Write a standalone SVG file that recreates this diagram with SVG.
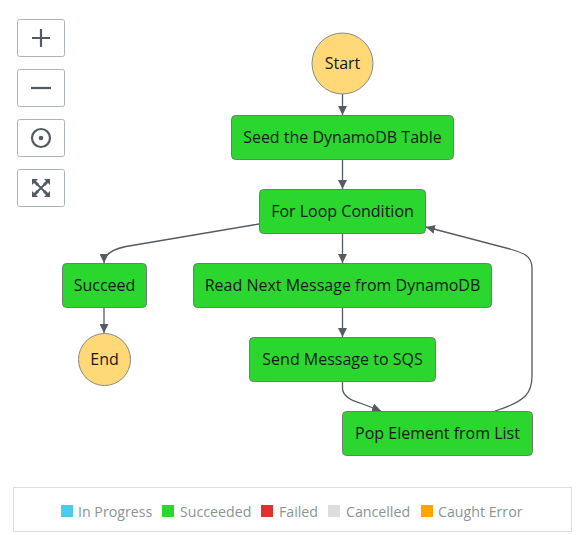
<svg xmlns="http://www.w3.org/2000/svg" width="582" height="535" viewBox="0 0 582 535">
<style>
.btn{fill:#fff;stroke:#aab7b8;stroke-width:1}
.ic{stroke:#545b64;stroke-width:2.2;fill:none}
.task{fill:#2bd62e;stroke:#777;stroke-width:1}
.term{fill:#ffd978;stroke:#888;stroke-width:1}
.lbl{font-family:"Open Sans","Noto Sans",sans-serif;font-size:16px;fill:#16191f;text-anchor:middle}
.edge{fill:none;stroke:#545b64;stroke-width:1.3}
.lg{font-family:"Open Sans","Noto Sans",sans-serif;font-size:14.2px;fill:#879596}
</style>
<defs>
<marker id="ah" viewBox="0 0 10 10" refX="10" refY="5" markerWidth="9" markerHeight="9" markerUnits="userSpaceOnUse" orient="auto">
<path d="M0,0 L10,5 L0,10 z" fill="#545b64"/>
</marker>
</defs>
<rect width="582" height="535" fill="#fff"/>
<g id="controls">
<rect class="btn" x="17.5" y="19.5" width="47" height="37" rx="2"/>
<path class="ic" d="M41,29 V47 M32,38 H50"/>
<rect class="btn" x="17.5" y="69.5" width="47" height="37" rx="2"/>
<path class="ic" d="M31,88 H51"/>
<rect class="btn" x="17.5" y="119.5" width="47" height="37" rx="2"/>
<circle cx="41" cy="138" r="9" class="ic"/>
<circle cx="41" cy="138" r="2.3" fill="#545b64"/>
<rect class="btn" x="17.5" y="169.5" width="47" height="37" rx="2"/>
<g fill="#545b64">
<path d="M32,179 h6 l-2,2 l3,3 l-2,2 l-3,-3 l-2,2 z"/>
<path d="M50,179 h-6 l2,2 l-3,3 l2,2 l3,-3 l2,2 z"/>
<path d="M32,197 h6 l-2,-2 l3,-3 l-2,-2 l-3,3 l-2,-2 z"/>
<path d="M50,197 h-6 l2,-2 l-3,-3 l2,-2 l3,3 l2,-2 z"/>
</g>
<path d="M36,183 L46,193 M46,183 L36,193" stroke="#545b64" stroke-width="2"/>
</g>
<g id="edges">
<path class="edge" marker-end="url(#ah)" d="M342.5,94 V115"/>
<path class="edge" marker-end="url(#ah)" d="M342.5,159 V189"/>
<path class="edge" marker-end="url(#ah)" d="M259,224 L126,246.5 Q104,251 104,263"/>
<path class="edge" marker-end="url(#ah)" d="M342.5,233 V263"/>
<path class="edge" marker-end="url(#ah)" d="M104,307 V333"/>
<path class="edge" marker-end="url(#ah)" d="M342.5,307 V337"/>
<path class="edge" marker-end="url(#ah)" d="M342.5,381 V388 Q342.5,398 360,403 L381,411"/>
<path class="edge" marker-end="url(#ah)" d="M495,411 C527,401 532,392 532,376 L532,268 C532,256 524,253 510,249 L426,227"/>
</g>
<g id="start">
<circle class="term" cx="342.5" cy="63.5" r="30.5"/>
<text class="lbl" x="342.5" y="69">Start</text>
</g>
<g id="seed">
<rect class="task" x="231.5" y="115.5" width="222" height="44" rx="4"/>
<text class="lbl" x="342.5" y="143">Seed the DynamoDB Table</text>
</g>
<g id="forloop">
<rect class="task" x="259.5" y="189.5" width="166" height="44" rx="4"/>
<text class="lbl" x="342.5" y="217">For Loop Condition</text>
</g>
<g id="succeed">
<rect class="task" x="62.5" y="263.5" width="84" height="44" rx="4"/>
<text class="lbl" x="104.5" y="291">Succeed</text>
</g>
<g id="end">
<circle class="term" cx="104.5" cy="359.5" r="26"/>
<text class="lbl" x="104.5" y="365">End</text>
</g>
<g id="readnext">
<rect class="task" x="193.5" y="263.5" width="298" height="44" rx="4"/>
<text class="lbl" x="342.5" y="291">Read Next Message from DynamoDB</text>
</g>
<g id="send">
<rect class="task" x="249.5" y="337.5" width="186" height="44" rx="4"/>
<text class="lbl" x="342.5" y="365">Send Message to SQS</text>
</g>
<g id="pop">
<rect class="task" x="342.5" y="411.5" width="190" height="44" rx="4"/>
<text class="lbl" x="437.5" y="439">Pop Element from List</text>
</g>
<g id="legend">
<rect x="13.5" y="487.5" width="558" height="44" fill="#fff" stroke="#ddd" stroke-width="1"/>
<rect x="61" y="505" width="12" height="12" fill="#4ec9ee"/>
<text class="lg" x="78" y="517">In Progress</text>
<rect x="162" y="505" width="12" height="12" fill="#2bd62e"/>
<text class="lg" x="180" y="517">Succeeded</text>
<rect x="261" y="505" width="12" height="12" fill="#dd3232"/>
<text class="lg" x="279" y="517">Failed</text>
<rect x="328" y="505" width="12" height="12" fill="#dddddd"/>
<text class="lg" x="346" y="517">Cancelled</text>
<rect x="421" y="505" width="12" height="12" fill="#ffa500"/>
<text class="lg" x="438" y="517">Caught Error</text>
</g>
</svg>
